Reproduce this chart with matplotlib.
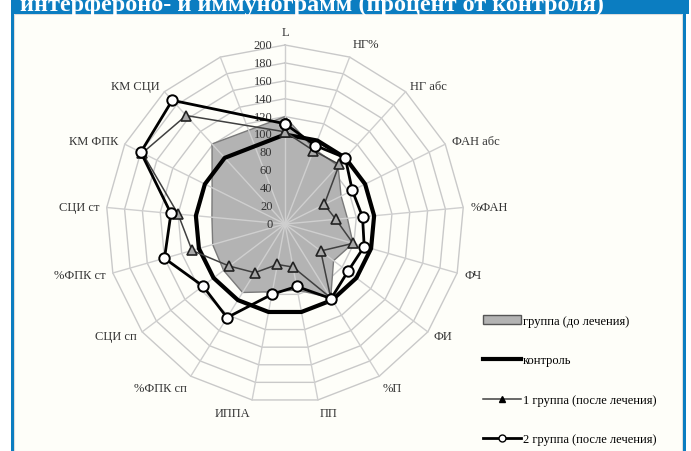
import numpy as np
import matplotlib.pyplot as plt
from matplotlib.patches import Rectangle, Patch
from matplotlib.lines import Line2D

# axes of the radar (the last spoke has no label and no data)
categories = ['L', 'НГ%', 'НГ абс', 'ФАН абс', '%ФАН', 'ФЧ', 'ФИ', '%П', 'ПП', 'ИППА',
              '%ФПК сп', 'СЦИ сп', '%ФПК ст', 'СЦИ ст', 'КМ ФПК', 'КМ СЦИ', '']
before = [120, 90, 88, 70, 70, 79, 68, 97, 75, 77, 90, 86, 84, 82, 91, 121]
control = [100, 100, 100, 100, 100, 100, 100, 100, 100, 100, 100, 100, 100, 100, 100, 100]
group1 = [103, 88, 90, 49, 57, 79, 50, 97, 49, 46, 64, 78, 108, 120, 178, 164]
group2 = [112, 94, 100, 84, 87, 92, 88, 98, 71, 80, 123, 115, 140, 128, 180, 187]
ticks = [0, 20, 40, 60, 80, 100, 120, 140, 160, 180, 200]
legend_labels = ['группа (до лечения)', 'контроль',
                 '1 группа (после лечения)', '2 группа (после лечения)']
title = 'интерфероно- и иммунограмм (процент от контроля)'

W, H = 691, 452
fig = plt.figure(figsize=(W / 100, H / 100), dpi=100)
fig.patch.set_facecolor('white')

blue = '#0b7dc1'
serif = ['Liberation Serif', 'DejaVu Serif']

# page decoration: frame, blue borders and the cut title bar (behind the chart)
fig.add_artist(Rectangle((14 / W, 0), 668 / W, 437 / H, transform=fig.transFigure,
                         facecolor='#fefef9', edgecolor='#dddddd', lw=0.8, zorder=-10))
fig.add_artist(Rectangle((11 / W, 0), 3 / W, 1, transform=fig.transFigure,
                         facecolor=blue, edgecolor='none', zorder=-9))
fig.add_artist(Rectangle((683 / W, 0), 3 / W, 1, transform=fig.transFigure,
                         facecolor=blue, edgecolor='none', zorder=-9))
fig.add_artist(Rectangle((11 / W, 1 - 15 / H), 678 / W, 15 / H, transform=fig.transFigure,
                         facecolor=blue, edgecolor='none', zorder=-9))
fig.text(20 / W, 1 - 11 / H, title, color='white', fontsize=17.5, fontweight='bold',
         family=serif, ha='left', va='baseline')

# polar axes: centre (285, 225) px, radius 179 px
cx, cy, R = 285, 225, 179
ax = fig.add_axes([(cx - R) / W, (H - cy - R) / H, 2 * R / W, 2 * R / H], projection='polar')
ax.set_theta_zero_location('N')
ax.set_theta_direction(-1)
ax.set_ylim(0, 200)
ax.grid(False)
ax.set_xticks([])
ax.set_yticks([])
ax.spines['polar'].set_visible(False)
ax.patch.set_alpha(0)

n = len(categories)
angles = np.arange(n) * 2 * np.pi / n
ring_angles = np.append(angles, angles[0])
data_angles = np.append(angles[:16], angles[0])

gridc = '#c9c9c9'
for t in ticks[1:]:
    ax.plot(ring_angles, [t] * len(ring_angles), color=gridc, lw=1.0, zorder=1, clip_on=False)

def closed(v):
    return list(v) + [v[0]]

ax.fill(data_angles, closed(before), facecolor='#b3b3b3', edgecolor='#7a7a7a', lw=1.0, zorder=2)

for a in angles:
    ax.plot([a, a], [0, 200], color='#cfcfcf', lw=1.0, zorder=3, clip_on=False)

ax.plot(data_angles, closed(control), color='black', lw=3.0, zorder=4)
ax.plot(data_angles, closed(group1), color='#404040', lw=1.1, marker='^', ms=7,
        mfc='#a8a8a8', mec='#222222', mew=1.2, zorder=5, clip_on=False)
ax.plot(data_angles, closed(group2), color='black', lw=2.0, marker='o', ms=7.5,
        mfc='white', mec='black', mew=1.4, zorder=6, clip_on=False)

for t in ticks:
    ax.annotate(str(t), xy=(0, t), xytext=(-9, 0), textcoords='offset points',
                ha='right', va='center', fontsize=9, family=serif, color='#333333')

for a, lab in zip(angles, categories):
    if not lab:
        continue
    s, c = np.sin(a), np.cos(a)
    ha = 'left' if s > 0.1 else ('right' if s < -0.1 else 'center')
    va = 'bottom' if c > 0.8 else ('top' if c < -0.8 else 'center')
    ax.text(a, 208, lab, ha=ha, va=va, fontsize=9, family=serif, color='#333333')

handles = [Patch(facecolor='#b3b3b3', edgecolor='#555555', lw=1.0),
           Line2D([], [], color='black', lw=3.0),
           Line2D([], [], color='#404040', lw=1.1, marker='^', ms=5, mfc='black', mec='black'),
           Line2D([], [], color='black', lw=2.0, marker='o', ms=5, mfc='white', mec='black')]
fig.legend(handles, legend_labels, loc='upper left', bbox_to_anchor=(483 / W, 1 - 316 / H),
           frameon=False, borderpad=0, borderaxespad=0, handlelength=3.0, handletextpad=0.2,
           labelspacing=2.2, prop={'family': serif, 'size': 9})

fig.savefig('out.png', dpi=100)
